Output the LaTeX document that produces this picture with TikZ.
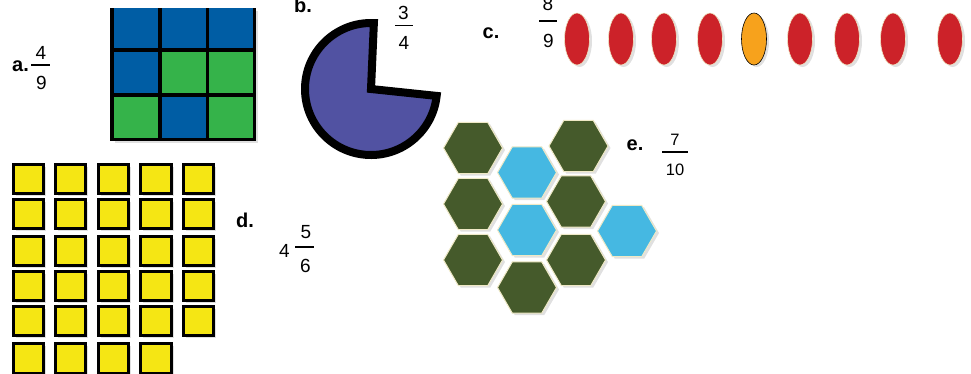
\documentclass[tikz,border=0pt]{standalone}
\usepackage{fontspec}
\setmainfont{Liberation Sans}
\usetikzlibrary{shapes.geometric,shadows}
\definecolor{gblue}{HTML}{005DA4}
\definecolor{ggreen}{HTML}{35B34A}
\definecolor{piecol}{HTML}{5152A2}
\definecolor{ered}{HTML}{CC2229}
\definecolor{eorange}{HTML}{F7A21C}
\definecolor{sqy}{HTML}{F5E614}
\definecolor{hexg}{HTML}{455A2B}
\definecolor{hexb}{HTML}{45B8E2}
\definecolor{cream}{HTML}{EFE9C6}
\begin{document}
\begin{tikzpicture}[x=1pt,y=-1pt,
  lbl/.style={font=\fontsize{20}{20}\selectfont\bfseries, anchor=base, inner sep=0pt},
  num/.style={font=\fontsize{19}{19}\selectfont, anchor=base, inner sep=0pt},
  numsm/.style={font=\fontsize{16.5}{16.5}\selectfont, anchor=base, inner sep=0pt},
  fbar/.style={line width=1.8pt},
  softshadow/.style={drop shadow={shadow xshift=2.5pt, shadow yshift=-2pt, opacity=0.12, fill=black}},
  sqbox/.style={fill=sqy, draw=black, line width=3pt, softshadow},
  hexbase/.style={regular polygon, regular polygon sides=6, minimum size=59pt, inner sep=0pt, draw=cream, line width=1pt, softshadow},
  hexdark/.style={hexbase, fill=hexg},
  hexblue/.style={hexbase, fill=hexb},
  egg/.style={ellipse, minimum width=25pt, minimum height=52pt, inner sep=0pt, line width=0.6pt, softshadow},
  eggred/.style={egg, fill=ered, draw=cream},
  eggorange/.style={egg, fill=eorange, draw=black}
]
\useasboundingbox (0,0) rectangle (971,373);
\clip (0,0) rectangle (971,373);

% ---------- a: 3x3 grid ----------
\fill[black!12] (115,11) rectangle (258,143);
\fill[gblue]  (112,8) rectangle (160,50);
\fill[gblue]  (160,8) rectangle (207.5,50);
\fill[gblue]  (207.5,8) rectangle (254.5,50);
\fill[gblue]  (112,50) rectangle (160,95);
\fill[ggreen] (160,50) rectangle (207.5,95);
\fill[ggreen] (207.5,50) rectangle (254.5,95);
\fill[ggreen] (112,95) rectangle (160,139.5);
\fill[gblue]  (160,95) rectangle (207.5,139.5);
\fill[ggreen] (207.5,95) rectangle (254.5,139.5);
\draw[line width=3.5pt] (112,8) -- (112,139.5) -- (254.5,139.5) -- (254.5,8);
\draw[line width=3.5pt] (160,8) -- (160,139.5);
\draw[line width=3.5pt] (207.5,8) -- (207.5,139.5);
\draw[line width=3.5pt] (112,50) -- (254.5,50);
\draw[line width=3.5pt] (112,95) -- (254.5,95);

\node[lbl] (la) at (20.5,71) {a.};
\node[num] (an) at (41,59) {4};
\node[num] (ad) at (41.5,89.5) {9};
\draw[fbar] (31,65) -- (49.5,65);

% ---------- b: pie ----------
\draw[fill=piecol, line width=8pt, line join=miter, miter limit=10]
  (371,89) -- ++(-87.5:66) arc[start angle=-87.5, end angle=-354, radius=66] -- cycle;
\node[lbl] (lb) at (303,12) {b.};
\node[num] (bn) at (403.5,19.5) {3};
\node[num] (bd) at (404,49.5) {4};
\draw[fbar] (395,25.5) -- (413,25.5);

% ---------- c: ovals ----------
\node[lbl] (lc) at (491,38) {c.};
\node[num] (cn) at (548,10) {8};
\node[num] (cd) at (548.5,47.5) {9};
\draw[fbar] (539,21) -- (557,21);
\node[eggred] (o1) at (577,39) {};
\node[eggred] (o2) at (621,39) {};
\node[eggred] (o3) at (664,39) {};
\node[eggred] (o4) at (710,39) {};
\node[eggorange] (o5) at (754,39) {};
\node[eggred] (o6) at (800,39) {};
\node[eggred] (o7) at (847,39) {};
\node[eggred] (o8) at (893,39) {};
\node[eggred] (o9) at (950,39) {};

% ---------- d: yellow squares ----------
\foreach \xa/\xb [count=\i] in {13.5/43.5, 55.5/85.5, 98.5/128.5, 140.5/171.5, 183.5/213.5} {
  \foreach \ya/\yb [count=\j] in {164.5/193.5, 199.5/228.5, 236.5/265.5, 271.5/300.5, 306.5/335.5} {
    \draw[sqbox] (\xa,\ya) rectangle (\xb,\yb);
  }
}
\foreach \xa/\xb in {13.5/43.5, 55.5/85.5, 98.5/128.5, 140.5/171.5} {
  \draw[sqbox] (\xa,343.5) rectangle (\xb,373.5);
}
\node[lbl] (ld) at (245,227) {d.};
\node[num] (dw) at (284.5,257) {4};
\node[num] (dn) at (306,238) {5};
\node[num] (dd) at (305.5,272.5) {6};
\draw[fbar] (295,247) -- (314,247);

% ---------- e: hexagons ----------
\node[hexdark] (h1) at (473,148) {};
\node[hexblue] (h2) at (527,172.5) {};
\node[hexdark] (h3) at (578.5,146) {};
\node[hexdark] (h4) at (473,204) {};
\node[hexdark] (h5) at (576,201.5) {};
\node[hexblue] (h6) at (527,230) {};
\node[hexblue] (h7) at (627,231) {};
\node[hexdark] (h8) at (473,260) {};
\node[hexdark] (h9) at (576,260) {};
\node[hexdark] (h10) at (527,287.5) {};
\node[lbl] (le) at (635,150) {e.};
\node[numsm] (en) at (675,145) {7};
\node[numsm] (ed) at (675,175) {10};
\draw[fbar] (662,152) -- (688,152);
\end{tikzpicture}
\end{document}
